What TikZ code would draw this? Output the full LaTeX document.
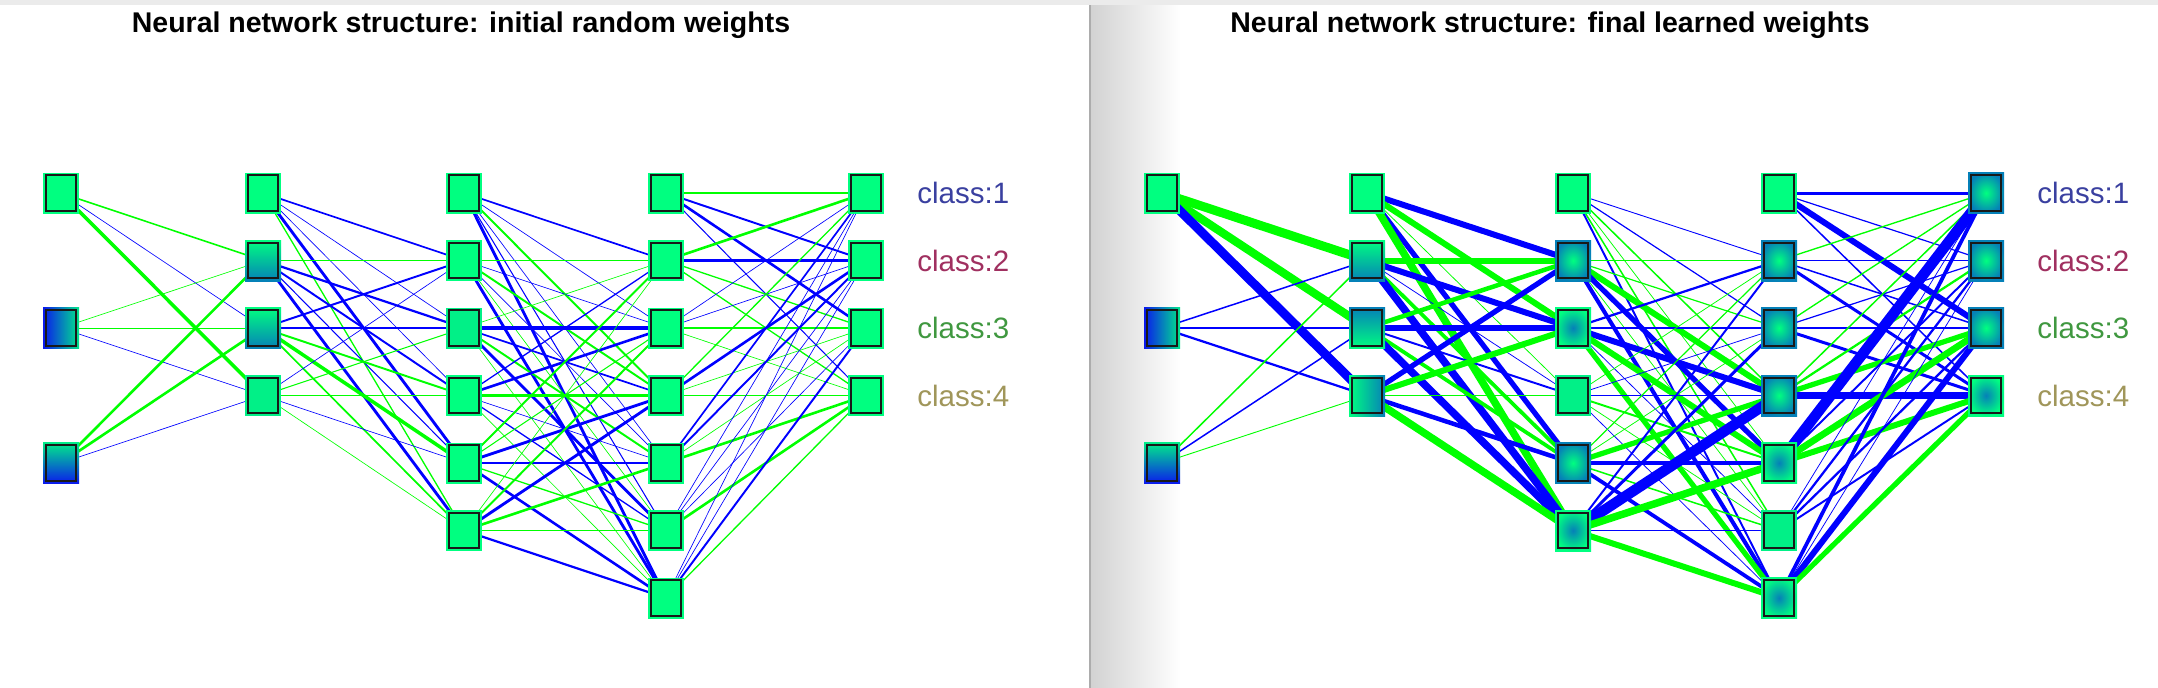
\documentclass[tikz,border=0pt]{standalone}
\usepackage{fontspec}
\setmainfont{Liberation Sans}
\usetikzlibrary{positioning}

\definecolor{nngreen}{HTML}{00FF80}
\definecolor{nnteal}{HTML}{0580B8}
\definecolor{nnblue}{HTML}{0A18EE}
\definecolor{poscol}{HTML}{00FF00}
\definecolor{negcol}{HTML}{0000FF}
\definecolor{cls1}{HTML}{3A40A0}
\definecolor{cls2}{HTML}{A03060}
\definecolor{cls3}{HTML}{409840}
\definecolor{cls4}{HTML}{A0965A}
\definecolor{topband}{HTML}{EBEBEB}
\definecolor{paneshade}{HTML}{D2D2D2}

\pgfdeclarelayer{paper}
\pgfdeclarelayer{edges}
\pgfsetlayers{paper,edges,main}

\tikzstyle{neuron}=[rectangle, inner sep=0pt, minimum width=36pt, minimum height=41pt, fill=nngreen,
  path picture={\draw[black!90, line width=1.8pt]
    ([shift={(2.7pt,2.7pt)}]path picture bounding box.south west) rectangle
    ([shift={(-2.7pt,-2.7pt)}]path picture bounding box.north east);}]
\tikzstyle{flat}=[]
\tikzstyle{hint}=[fill=nngreen!88!nnteal]
\tikzstyle{input x}=[left color=nnblue, right color=nngreen!80!nnteal]
\tikzstyle{input y}=[top color=nngreen!85!nnteal, bottom color=nnblue]
\tikzstyle{fade down}=[top color=nngreen, bottom color=nnteal]
\tikzstyle{fade up}=[top color=nnteal, bottom color=nngreen]
\tikzstyle{fade right}=[left color=nngreen, right color=nnteal]
\tikzstyle{green core}=[inner color=nngreen, outer color=nnteal]
\tikzstyle{teal core}=[inner color=nnteal, outer color=nngreen]
\tikzstyle{pos weight}=[draw=poscol]
\tikzstyle{neg weight}=[draw=negcol]
\tikzstyle{class label}=[inner sep=0pt, anchor=west, font=\fontsize{29.5}{32}\selectfont]
\tikzstyle{plot title}=[inner sep=0pt, font=\bfseries\fontsize{28.5}{30}\selectfont]

\begin{document}
\begin{tikzpicture}[x=1pt, y=-1pt]
  \useasboundingbox (0,0) rectangle (2158,688);

  % panels
  \begin{pgfonlayer}{paper}
    \fill[white] (0,0) rectangle (2158,688);
    \shade[left color=paneshade, right color=white] (1091,0) rectangle (1180,688);
    \draw[gray!65, line width=1.2pt] (1090,0) -- (1090,688);
    \fill[topband] (0,0) rectangle (2158,5);
  \end{pgfonlayer}

  \node[plot title] (ltitle) at (461, 25) {Neural network structure: initial random weights};
  \node[plot title] (rtitle) at (1550, 25) {Neural network structure: final learned weights};

  % initial weights
  \foreach \n/\x/\r/\s in {la1/61/0/flat, la2/61/2/input x, la3/61/4/input y,
      lb1/263/0/flat, lb2/263/1/fade down, lb3/263/2/fade down, lb4/263/3/hint,
      lc1/464/0/flat, lc2/464/1/flat, lc3/464/2/hint, lc4/464/3/flat, lc5/464/4/flat, lc6/464/5/flat,
      ld1/666/0/flat, ld2/666/1/flat, ld3/666/2/flat, ld4/666/3/flat, ld5/666/4/flat, ld6/666/5/flat, ld7/666/6/flat,
      le1/866/0/flat, le2/866/1/flat, le3/866/2/flat, le4/866/3/flat}
    \node[neuron, \s] (\n) at (\x, 193+67.5*\r) {};

  % final weights
  \foreach \n/\x/\r/\s in {ra1/1162/0/flat, ra2/1162/2/input x, ra3/1162/4/input y,
      rb1/1367/0/flat, rb2/1367/1/fade down, rb3/1367/2/fade up, rb4/1367/3/fade right,
      rc1/1573/0/flat, rc2/1573/1/green core, rc3/1573/2/teal core, rc4/1573/3/hint, rc5/1573/4/green core, rc6/1573/5/teal core,
      rd1/1779/0/flat, rd2/1779/1/green core, rd3/1779/2/green core, rd4/1779/3/green core, rd5/1779/4/teal core, rd6/1779/5/hint, rd7/1779/6/teal core,
      re1/1986/0/green core, re2/1986/1/green core, re3/1986/2/green core, re4/1986/3/teal core}
    \node[neuron, \s] (\n) at (\x, 193+67.5*\r) {};

  \foreach \p in {l,r} {
    \node[class label, text=cls1, right=33pt of \p e1] (\p cls1) {class:1};
    \node[class label, text=cls2, right=33pt of \p e2] (\p cls2) {class:2};
    \node[class label, text=cls3, right=33pt of \p e3] (\p cls3) {class:3};
    \node[class label, text=cls4, right=33pt of \p e4] (\p cls4) {class:4};
  }

  \begin{pgfonlayer}{edges}
    % initial weights
    \foreach \a/\b/\s/\w [evaluate=\w as \lw using \w*1.3] in {la1/lb2/pos/1.2, la1/lb3/neg/0.5, la1/lb4/pos/2.7, la2/lb2/pos/0.5, la2/lb3/pos/0.6,
        la2/lb4/neg/0.5, la3/lb2/pos/2, la3/lb3/pos/2, la3/lb4/neg/0.5,
        lb1/lc2/neg/1.3, lb1/lc3/neg/0.5, lb1/lc4/neg/0.5, lb1/lc5/neg/2.2, lb1/lc6/pos/1,
        lb2/lc2/pos/1, lb2/lc3/neg/1.7, lb2/lc4/neg/1.5, lb2/lc5/neg/0.8, lb2/lc6/neg/2.2,
        lb3/lc2/neg/1.5, lb3/lc3/neg/1.7, lb3/lc4/pos/1.5, lb3/lc5/pos/2.7, lb3/lc6/pos/1.3,
        lb4/lc2/neg/0.5, lb4/lc3/pos/0.8, lb4/lc4/pos/1.3, lb4/lc5/neg/0.5, lb4/lc6/pos/0.5,
        lc1/ld2/neg/1.3, lc1/ld3/neg/0.5, lc1/ld4/pos/1.5, lc1/ld5/neg/0.5, lc1/ld6/neg/0.8, lc1/ld7/neg/2.2,
        lc2/ld2/pos/1, lc2/ld3/neg/0.5, lc2/ld4/pos/1.5, lc2/ld5/neg/0.5, lc2/ld6/pos/0.5, lc2/ld7/neg/2.2,
        lc3/ld2/pos/0.5, lc3/ld3/neg/2.7, lc3/ld4/neg/1.3, lc3/ld5/pos/1.5, lc3/ld6/neg/2.2, lc3/ld7/pos/0.5,
        lc4/ld2/neg/1, lc4/ld3/neg/2, lc4/ld4/pos/2, lc4/ld5/neg/0.5, lc4/ld6/neg/1, lc4/ld7/pos/0.5,
        lc5/ld2/pos/1.5, lc5/ld3/pos/0.8, lc5/ld4/neg/2.2, lc5/ld5/neg/1, lc5/ld6/pos/1, lc5/ld7/neg/2,
        lc6/ld2/pos/0.5, lc6/ld3/pos/1.5, lc6/ld4/neg/2.2, lc6/ld5/pos/2, lc6/ld6/pos/0.5, lc6/ld7/neg/1.7,
        ld1/le1/pos/1.2, ld1/le2/neg/1.5, ld1/le3/neg/2, ld1/le4/neg/0.8,
        ld2/le1/pos/2, ld2/le2/neg/2.2, ld2/le3/pos/1, ld2/le4/pos/1,
        ld3/le1/neg/0.5, ld3/le2/neg/0.5, ld3/le3/pos/1, ld3/le4/pos/0.5,
        ld4/le1/pos/1, ld4/le2/neg/2, ld4/le3/pos/0.5, ld4/le4/pos/0.9,
        ld5/le1/neg/1.3, ld5/le2/neg/1.5, ld5/le3/pos/0.5, ld5/le4/pos/2,
        ld6/le1/neg/0.5, ld6/le2/neg/0.5, ld6/le3/neg/0.5, ld6/le4/pos/2,
        ld7/le1/neg/0.5, ld7/le2/neg/0.5, ld7/le3/neg/1.5, ld7/le4/pos/1}
      \draw[\s\space weight, line width=\lw pt] (\a.center) -- (\b.center);

    % final weights
    \foreach \a/\b/\s/\w [evaluate=\w as \lw using \w*1.5] in {ra1/rb2/pos/6, ra1/rb3/pos/5.5, ra1/rb4/neg/6, ra2/rb2/neg/1, ra2/rb3/neg/0.7,
        ra2/rb4/neg/1.5, ra3/rb2/pos/1, ra3/rb3/neg/1, ra3/rb4/pos/0.6,
        rb1/rc2/neg/4, rb1/rc3/pos/4, rb1/rc4/pos/0.5, rb1/rc5/neg/3.5, rb1/rc6/pos/5,
        rb2/rc2/pos/4, rb2/rc3/neg/4, rb2/rc4/neg/0.5, rb2/rc5/pos/2.5, rb2/rc6/neg/5,
        rb3/rc2/pos/3, rb3/rc3/neg/4.5, rb3/rc4/neg/1.3, rb3/rc5/pos/2.5, rb3/rc6/neg/5,
        rb4/rc2/neg/3.5, rb4/rc3/pos/4, rb4/rc4/pos/0.8, rb4/rc5/neg/3, rb4/rc6/pos/5,
        rc1/rd2/neg/0.6, rc1/rd3/neg/0.8, rc1/rd4/pos/1, rc1/rd5/pos/0.5, rc1/rd6/pos/1, rc1/rd7/neg/1.3,
        rc2/rd2/pos/1, rc2/rd3/pos/0.8, rc2/rd4/pos/4, rc2/rd5/neg/3.5, rc2/rd6/pos/0.5, rc2/rd7/neg/2.7,
        rc3/rd2/neg/1.5, rc3/rd3/neg/1.5, rc3/rd4/neg/4, rc3/rd5/pos/4, rc3/rd6/neg/0.5, rc3/rd7/pos/3.5,
        rc4/rd2/pos/0.5, rc4/rd3/neg/0.5, rc4/rd4/neg/0.8, rc4/rd5/pos/1.3, rc4/rd6/pos/0.5, rc4/rd7/neg/0.5,
        rc5/rd2/pos/0.8, rc5/rd3/pos/0.5, rc5/rd4/pos/3.5, rc5/rd5/neg/3, rc5/rd6/pos/1, rc5/rd7/neg/2.5,
        rc6/rd2/neg/1.3, rc6/rd3/neg/2, rc6/rd4/neg/7, rc6/rd5/pos/5, rc6/rd6/neg/0.5, rc6/rd7/pos/4,
        rd1/re1/neg/2, rd1/re2/neg/0.8, rd1/re3/neg/4, rd1/re4/neg/1,
        rd2/re1/pos/0.9, rd2/re2/neg/0.8, rd2/re3/neg/1, rd2/re4/neg/2,
        rd3/re1/pos/0.9, rd3/re2/neg/0.8, rd3/re3/neg/0.8, rd3/re4/neg/2,
        rd4/re1/pos/1, rd4/re2/pos/1.5, rd4/re3/pos/3.5, rd4/re4/neg/5,
        rd5/re1/neg/7, rd5/re2/neg/1.3, rd5/re3/pos/4.5, rd5/re4/pos/4,
        rd6/re1/neg/0.5, rd6/re2/neg/1.5, rd6/re3/neg/1.5, rd6/re4/neg/1.3,
        rd7/re1/neg/2.5, rd7/re2/neg/0.5, rd7/re3/neg/4, rd7/re4/pos/3.5}
      \draw[\s\space weight, line width=\lw pt] (\a.center) -- (\b.center);
  \end{pgfonlayer}
\end{tikzpicture}
\end{document}
